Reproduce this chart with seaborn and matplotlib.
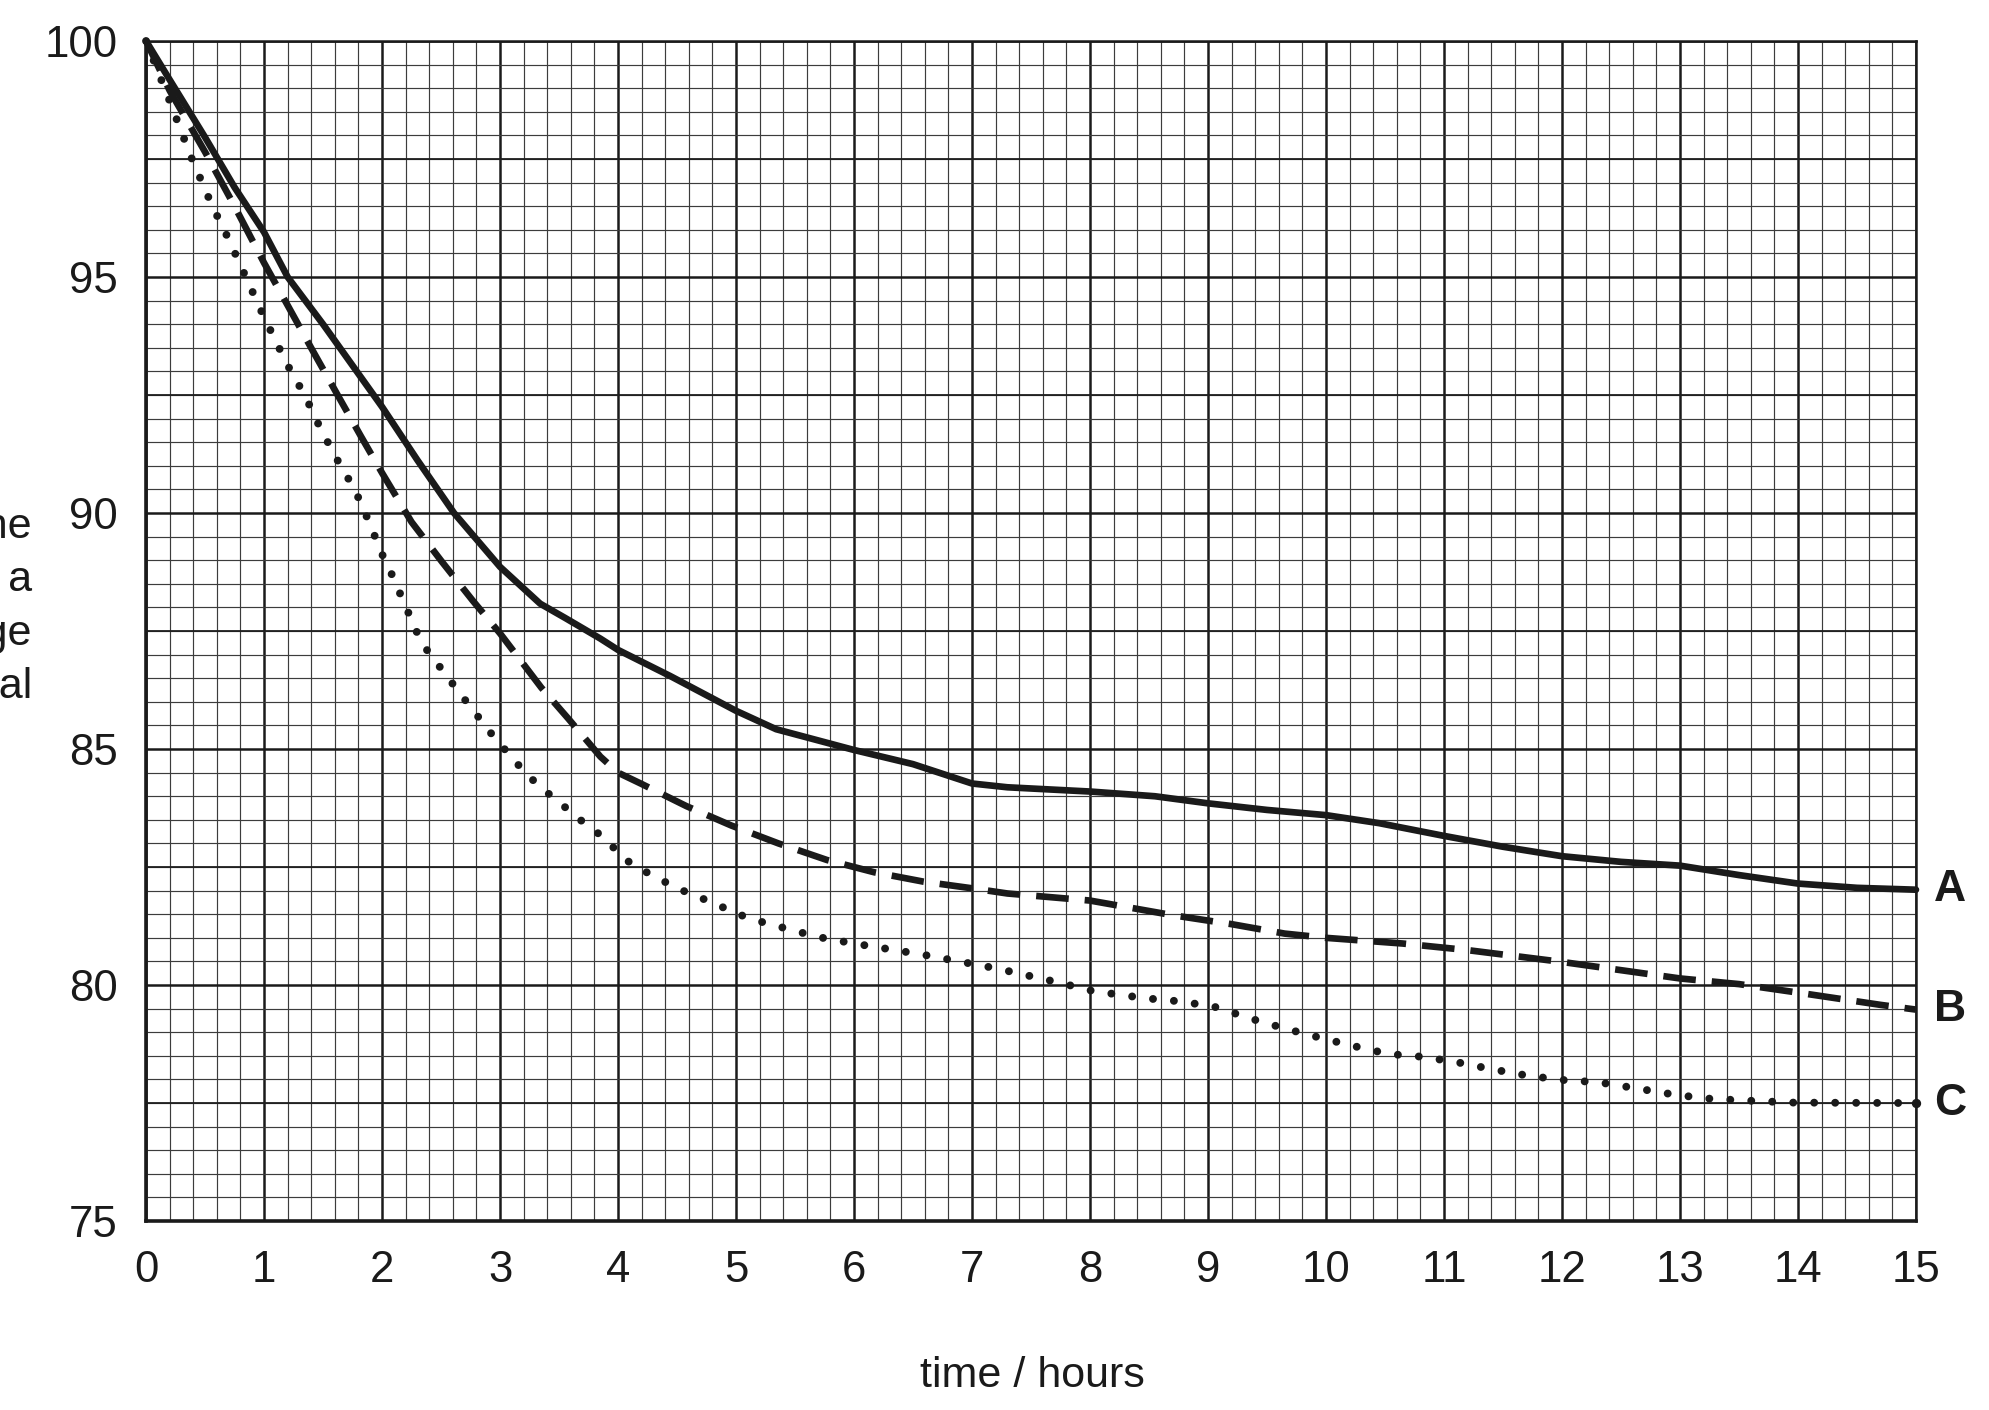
import numpy as np
import pandas as pd
import seaborn as sns
from matplotlib import pyplot as plt

# curve A (solid)
time_a = [0, 0.2, 0.5, 0.75, 1.0, 1.2, 1.5, 2.0, 2.3, 2.61, 3.0, 3.34, 3.55, 3.85, 4.0,
          4.44, 5.0, 5.34, 6.0, 6.5, 7.0, 7.3, 8.0, 8.55, 9.0, 9.5, 10.0, 10.45, 11.0,
          11.5, 12.0, 12.5, 13.0, 13.5, 14.0, 14.5, 15.0]
mass_a = [100, 99.18, 97.96, 96.9, 95.95, 95.0, 94.0, 92.25, 91.12, 90.0, 88.86, 88.08,
          87.78, 87.34, 87.1, 86.55, 85.81, 85.42, 84.98, 84.68, 84.27, 84.19, 84.1, 84.0,
          83.85, 83.71, 83.6, 83.43, 83.16, 82.93, 82.73, 82.61, 82.53, 82.33, 82.15,
          82.06, 82.02]

# curve B (dashed)
time_b = [0, 0.2, 0.5, 0.75, 1.0, 1.2, 1.41, 1.61, 1.82, 2.0, 2.25, 2.51, 2.77, 3.0, 3.35,
          3.58, 3.85, 4.0, 4.2, 4.58, 4.96, 5.36, 5.77, 6.17, 6.59, 7.0, 7.3, 8.0, 8.7, 9.2,
          9.65, 10.0, 10.65, 11.2, 12.0, 12.6, 13.0, 13.5, 14.0, 14.7, 15.0]
mass_b = [100, 98.95, 97.65, 96.5, 95.3, 94.4, 93.45, 92.56, 91.63, 90.85, 89.81, 88.96,
          88.14, 87.45, 86.3, 85.64, 84.84, 84.5, 84.26, 83.79, 83.38, 83.0, 82.65, 82.39,
          82.19, 82.05, 81.94, 81.79, 81.48, 81.29, 81.09, 81.0, 80.88, 80.74, 80.49, 80.28,
          80.14, 80.02, 79.84, 79.58, 79.48]

# curve C (dotted)
time_c = [0, 0.1, 0.2, 0.38, 0.56, 0.7, 0.82, 1.0, 1.2, 1.35, 1.48, 1.62, 1.77, 1.89, 2.0,
          2.07, 2.19, 2.31, 2.38, 2.66, 2.95, 3.23, 3.45, 3.58, 3.69, 3.81, 3.93, 4.03, 4.15,
          4.28, 4.41, 4.55, 4.69, 5.11, 5.69, 6.0, 6.57, 7.17, 7.3, 7.74, 8.03, 8.47, 8.78,
          9.07, 9.36, 9.65, 9.94, 10.23, 10.53, 10.82, 11.12, 11.42, 11.71, 12.0, 12.31,
          12.61, 12.9, 13.2, 13.5, 13.95, 15.0]
mass_c = [100, 99.36, 98.73, 97.55, 96.51, 95.8, 95.14, 94.15, 93.13, 92.47, 91.78, 91.13,
          90.49, 89.81, 89.13, 88.77, 88.08, 87.39, 87.1, 86.18, 85.25, 84.45, 83.97, 83.71,
          83.48, 83.26, 83.0, 82.72, 82.51, 82.34, 82.17, 82.0, 81.86, 81.41, 81.02, 80.88,
          80.65, 80.37, 80.3, 80.05, 79.87, 79.72, 79.65, 79.53, 79.29, 79.08, 78.89, 78.71,
          78.54, 78.48, 78.36, 78.21, 78.08, 77.99, 77.94, 77.82, 77.70, 77.60, 77.56, 77.51,
          77.5]

curve_labels = ["A", "B", "C"]

ink = "#1a1a1a"

sns.set_style("white")
plt.rcParams["font.family"] = ["Liberation Sans", "DejaVu Sans"]

fig = plt.figure(figsize=(19.9, 14.1), dpi=100)
ax = fig.add_axes([0.0734, 0.1340, 0.8894, 0.8369])

# graph paper grid
ax.set_xlim(0, 15)
ax.set_ylim(75, 100)
ax.set_xticks(np.arange(0, 16, 1))
ax.set_yticks(np.arange(75, 101, 5))
ax.set_xticks(np.arange(0, 15.01, 0.2), minor=True)
ax.set_yticks(np.arange(75, 100.01, 0.5), minor=True)
ax.grid(which="minor", color="#3c3c3c", linewidth=0.85)
ax.grid(which="major", color=ink, linewidth=1.8)
ax.hlines(np.arange(77.5, 100, 5), 0, 15, color="#1f1f1f", linewidth=1.3, zorder=0.6)
ax.set_axisbelow(True)

for side in ["left", "bottom"]:
    ax.spines[side].set_linewidth(2.6)
    ax.spines[side].set_color(ink)
for side in ["top", "right"]:
    ax.spines[side].set_linewidth(1.8)
    ax.spines[side].set_color(ink)

ax.tick_params(which="major", direction="out", length=12.5, width=2.4, color=ink,
               labelsize=31.5, labelcolor=ink, pad=8)
ax.tick_params(which="minor", length=0)

frames = [
    pd.DataFrame({"time": time_a, "mass": mass_a}),
    pd.DataFrame({"time": time_b, "mass": mass_b}),
    pd.DataFrame({"time": time_c, "mass": mass_c}),
]
styles = [
    dict(linestyle="-", solid_capstyle="round", linewidth=4.8),
    dict(linestyle=(0, (4.9, 2.4)), dash_capstyle="butt", linewidth=4.8),
    dict(linestyle=(0, (0.001, 2.65)), dash_capstyle="round", linewidth=5.7),
]
for df, st, lab in zip(frames, styles, curve_labels):
    sns.lineplot(data=df, x="time", y="mass", ax=ax, color=ink,
                 clip_on=False, zorder=3, **st)
    ax.annotate(lab, xy=(df["time"].iloc[-1], df["mass"].iloc[-1]), xytext=(13, 0),
                textcoords="offset points", ha="left", va="center",
                fontsize=32, fontweight="bold", color=ink, annotation_clip=False)

# closing dot of the dotted curve sits on the right edge
ax.plot(time_c[-1], mass_c[-1], "o", color=ink, markersize=5.7, clip_on=False, zorder=3)

ax.set_xlabel("")
ax.set_ylabel("")

fig.text(0.5186, 1 - 1387 / 1410, "time / hours", ha="center", va="baseline",
         fontsize=31, color=ink)
fig.text(32 / 1990, 1 - 607 / 1410, "mass of the\npotato as a\npercentage\nof original",
         ha="right", va="center", multialignment="right", linespacing=1.42,
         fontsize=31, color=ink)

fig.savefig("out.png", dpi=100)
